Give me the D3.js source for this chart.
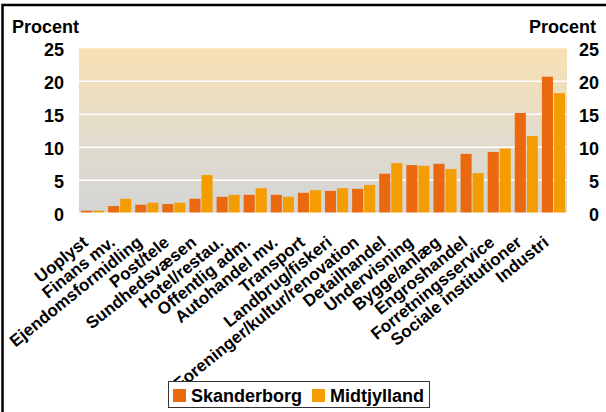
<!DOCTYPE html>
<html>
<head>
<meta charset="utf-8">
<script src="https://cdn.jsdelivr.net/npm/d3@7"></script>
<style>
  body { margin: 0; background: #fff; }
  text { font-family: "Liberation Sans", Arial, sans-serif; font-weight: bold; fill: #000; }
</style>
</head>
<body>
<div class="canvas"></div>
<script>
// categories and values (percent)
const categories = ["Uoplyst", "Finans mv.", "Ejendomsformidling", "Post/tele", "Sundhedsvæsen",
  "Hotel/restau.", "Offentlig adm.", "Autohandel mv.", "Transport", "Landbrug/fiskeri",
  "Foreninger/kultur/renovation", "Detailhandel", "Undervisning", "Bygge/anlæg", "Engroshandel",
  "Forretningsservice", "Sociale institutioner", "Industri"];
const series = ["Skanderborg", "Midtjylland"];
const skanderborg = [0.4, 1.1, 1.3, 1.4, 2.2, 2.5, 2.8, 2.8, 3.1, 3.4, 3.7, 6.0, 7.3, 7.5, 9.0, 9.3, 15.2, 20.7];
const midtjylland = [0.4, 2.2, 1.6, 1.6, 5.8, 2.8, 3.8, 2.5, 3.5, 3.8, 4.3, 7.6, 7.2, 6.7, 6.1, 9.8, 11.7, 18.2];
const yTicks = [0, 5, 10, 15, 20, 25];
const colors = ["#ea690e", "#f49d02"];

const w = 606, h = 412;
const plot = { left: 79, right: 567, top: 48.3, bottom: 213.3 };

const svg = d3.select(".canvas").append("svg").attr("width", w).attr("height", h);

// frame
svg.append("rect").attr("x", 2.5).attr("y", 5).attr("width", w + 10).attr("height", h + 10)
  .attr("fill", "none").attr("stroke", "#000").attr("stroke-width", 2.5);

const y = d3.scaleLinear().domain([0, 25]).range([plot.bottom, plot.top]);
const x0 = d3.scaleBand().domain(categories).range([plot.left, plot.right]);
const x1 = d3.scaleBand().domain(series).range([2, x0.bandwidth() - 2]).paddingInner(0.08);

// background gradient
const grad = svg.append("defs").append("linearGradient").attr("id", "bg")
  .attr("x1", 0).attr("y1", 0).attr("x2", 0).attr("y2", 1);
grad.append("stop").attr("offset", "0%").attr("stop-color", "#f9e1b2");
grad.append("stop").attr("offset", "55%").attr("stop-color", "#e2dccd");
grad.append("stop").attr("offset", "100%").attr("stop-color", "#d3d4d4");

svg.append("rect").attr("x", plot.left).attr("y", plot.top)
  .attr("width", plot.right - plot.left).attr("height", plot.bottom - plot.top)
  .attr("fill", "url(#bg)");

// gridlines
svg.append("g").selectAll("line").data(yTicks.filter(d => d > 0 && d < 25)).enter().append("line")
  .attr("x1", plot.left).attr("x2", plot.right)
  .attr("y1", d => y(d)).attr("y2", d => y(d))
  .attr("stroke", "#fff").attr("stroke-width", 1.5);

// bars
const rows = categories.map((c, i) => ({ cat: c, vals: [skanderborg[i], midtjylland[i]] }));
const groups = svg.append("g").selectAll("g").data(rows).enter().append("g")
  .attr("transform", d => `translate(${x0(d.cat)},0)`);
groups.selectAll("rect").data(d => d.vals.map((v, j) => ({ s: series[j], v: v, j: j }))).enter()
  .append("rect")
  .attr("x", d => x1(d.s))
  .attr("y", d => y(d.v))
  .attr("width", x1.bandwidth())
  .attr("height", d => y(0) - y(d.v))
  .attr("fill", d => colors[d.j]);

// axis base line
svg.append("line").attr("x1", plot.left).attr("x2", plot.right)
  .attr("y1", plot.bottom).attr("y2", plot.bottom).attr("stroke", "#fff").attr("stroke-width", 1.5);

// y axes (left and right)
const leftAxis = d3.axisLeft(y).tickValues(yTicks).tickSize(0).tickPadding(0);
const rightAxis = d3.axisRight(y).tickValues(yTicks).tickSize(0).tickPadding(0);
const gl = svg.append("g").attr("transform", "translate(64,0)").call(leftAxis);
const gr = svg.append("g").attr("transform", "translate(599,0)").call(rightAxis);
[gl, gr].forEach(g => {
  g.select(".domain").remove();
  g.selectAll("text").attr("font-size", 18).attr("dy", "0.4em")
    .style("font-family", "'Liberation Sans', Arial, sans-serif").style("font-weight", "bold");
});
gr.selectAll("text").attr("text-anchor", "end");

svg.append("text").attr("x", 12).attr("y", 33).attr("font-size", 18).text("Procent");
svg.append("text").attr("x", 596).attr("y", 33).attr("font-size", 18).attr("text-anchor", "end").text("Procent");

// category labels
svg.append("g").selectAll("text").data(categories).enter().append("text")
  .attr("font-size", 17)
  .attr("text-anchor", "end")
  .attr("transform", d => `translate(${x0(d) + x0.bandwidth() / 2 - 11},235) rotate(-39)`)
  .attr("dy", "0.7em")
  .text(d => d);

// legend
const legend = svg.append("g");
legend.append("rect").attr("x", 168.5).attr("y", 381.5).attr("width", 261).attr("height", 26)
  .attr("fill", "#fff").attr("stroke", "#333").attr("stroke-width", 1);
const legX = [173, 312];
series.forEach((s, i) => {
  legend.append("rect").attr("x", legX[i]).attr("y", 389).attr("width", 13).attr("height", 13)
    .attr("fill", colors[i]);
  legend.append("text").attr("x", legX[i] + 18).attr("y", 402).attr("font-size", 18).text(s);
});
</script>
</body>
</html>
